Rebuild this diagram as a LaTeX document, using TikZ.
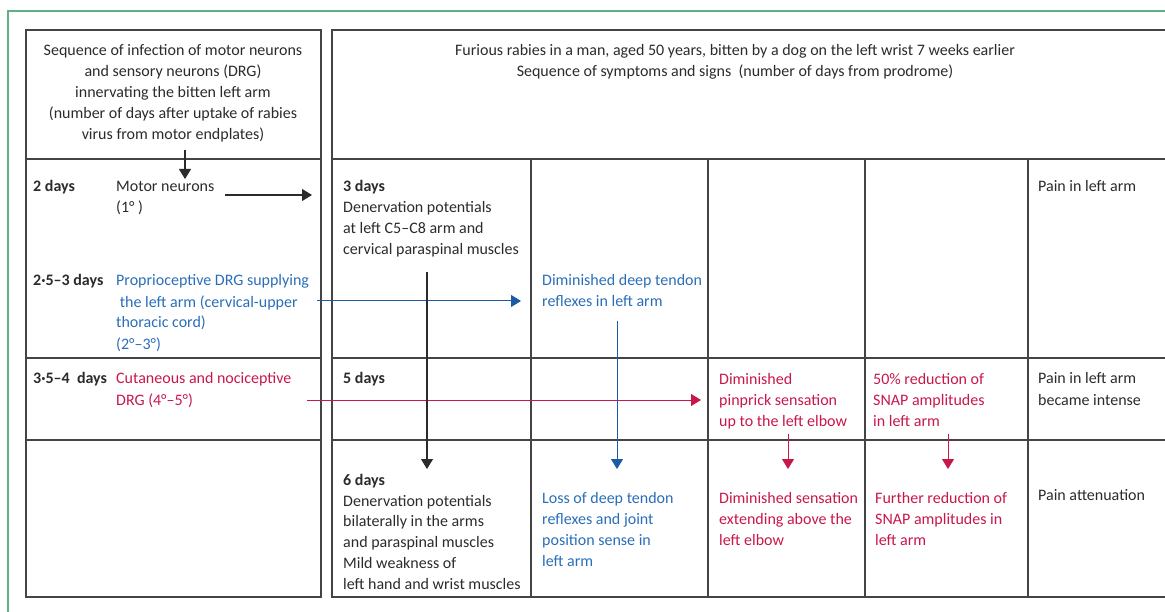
\documentclass[tikz,border=0pt]{standalone}
\usepackage{fontspec}
\setmainfont{Carlito}
\usetikzlibrary{arrows.meta}
\definecolor{lgreen}{HTML}{5FAF88}
\definecolor{lblue}{HTML}{2A6EB8}
\definecolor{ablue}{HTML}{1B5AA5}
\definecolor{lred}{HTML}{C8174B}
\definecolor{gridc}{HTML}{444444}
\definecolor{txtc}{HTML}{2B2B2B}
\begin{document}
\begin{tikzpicture}[x=1pt,y=-1pt,
 txt/.style={anchor=base west, inner sep=0pt, align=left, font=\fontsize{16}{21}\selectfont, text=txtc},
 hd/.style={txt, anchor=base, align=center},
 dy/.style={txt, font=\fontsize{16}{21}\selectfont\bfseries},
 bl/.style={txt, text=lblue},
 rd/.style={txt, text=lred},
 grid/.style={draw=gridc, line width=1.2pt},
 arr/.style={-{Triangle[length=10pt,width=12pt]}, line width=1.2pt},
 karr/.style={arr, draw=txtc},
 barr/.style={arr, draw=ablue, line width=1pt},
 rarr/.style={arr, draw=lred, line width=1pt}
]
\useasboundingbox (0,0) rectangle (1165,612);
\draw[lgreen, line width=1.2pt] (8,612) -- (8,11) -- (1165,11);

% left table
\draw[grid] (26,30) rectangle (321,597);
\draw[grid] (26,159) -- (321,159) (26,358) -- (321,358) (26,440) -- (321,440);
% right table
\draw[grid] (1165,30) -- (332,30) -- (332,597) -- (1165,597);
\draw[grid] (332,159) -- (1165,159) (332,358) -- (1165,358) (332,440) -- (1165,440);
\foreach \x in {531,708,865,1028} \draw[grid] (\x,159) -- (\x,597);

% headers (anchor base = last line)
\node[hd] (lh) at (173,140) {Sequence of infection of motor neurons\\and sensory neurons (DRG)\\innervating the bitten left arm\\(number of days after uptake of rabies\\virus from motor endplates)};
\node[hd] (rh) at (735,77) {Furious rabies in a man, aged 50 years, bitten by a dog on the left wrist 7 weeks earlier\\Sequence of symptoms and signs\ \ (number of days from prodrome)};

% left column
\node[dy] (d2) at (33,192) {2 days};
\node[txt] (mn) at (116,213) {Motor neurons\\(1° )};
\node[dy] (d25) at (33,286) {2·5–3 days};
\node[bl] (pd) at (116,349) {Proprioceptive DRG supplying\\\ the left arm (cervical-upper\\thoracic cord)\\(2°–3°)};
\node[dy] (d35) at (33,384) {3·5–4\ \ days};
\node[rd] (cd) at (116,405) {Cutaneous and nociceptive\\DRG (4°–5°)};

% right part
\node[txt] (r3) at (343,255) {\textbf{3 days}\\Denervation potentials\\at left C5–C8 arm and\\cervical paraspinal muscles};
\node[bl] (ddt) at (542,307) {Diminished deep tendon\\reflexes in left arm};
\node[txt] (p1) at (1038,192) {Pain in left arm};
\node[dy] (r5) at (343,384) {5 days};
\node[rd] (dp) at (719,426) {Diminished\\pinprick sensation\\up to the left elbow};
\node[rd] (sn) at (873,426) {50\% reduction of\\SNAP amplitudes\\in left arm};
\node[txt] (p2) at (1038,405) {Pain in left arm\\became intense};
\node[txt, font=\fontsize{16}{20.7}\selectfont] (r6) at (343,589) {\textbf{6 days}\\Denervation potentials\\bilaterally in the arms\\and paraspinal muscles\\Mild weakness of\\left hand and wrist muscles};
\node[bl] (ld) at (542,566) {Loss of deep tendon\\reflexes and joint\\position sense in\\left arm};
\node[rd] (ds) at (719,545) {Diminished sensation\\extending above the\\left elbow};
\node[rd] (fr) at (875,545) {Further reduction of\\SNAP amplitudes in\\left arm};
\node[txt] (p3) at (1038,500) {Pain attenuation};

% arrows
\coordinate (a1s) at (185,150); \coordinate (a1e) at (185,179);
\coordinate (a2s) at (225,195); \coordinate (a2e) at (312,195);
\coordinate (a3s) at (317,301); \coordinate (a3e) at (521,301);
\coordinate (a4s) at (307,400); \coordinate (a4e) at (701,400);
\coordinate (a5s) at (427,272); \coordinate (a5e) at (427,469);
\coordinate (a6s) at (617,321); \coordinate (a6e) at (617,469);
\coordinate (a7s) at (788,434); \coordinate (a7e) at (788,469);
\coordinate (a8s) at (948,434); \coordinate (a8e) at (948,469);
\draw[karr] (a1s) -- (a1e);
\draw[karr] (a2s) -- (a2e);
\draw[barr] (a3s) -- (a3e);
\draw[rarr] (a4s) -- (a4e);
\draw[karr] (a5s) -- (a5e);
\draw[barr] (a6s) -- (a6e);
\draw[rarr] (a7s) -- (a7e);
\draw[rarr] (a8s) -- (a8e);
\end{tikzpicture}
\end{document}
